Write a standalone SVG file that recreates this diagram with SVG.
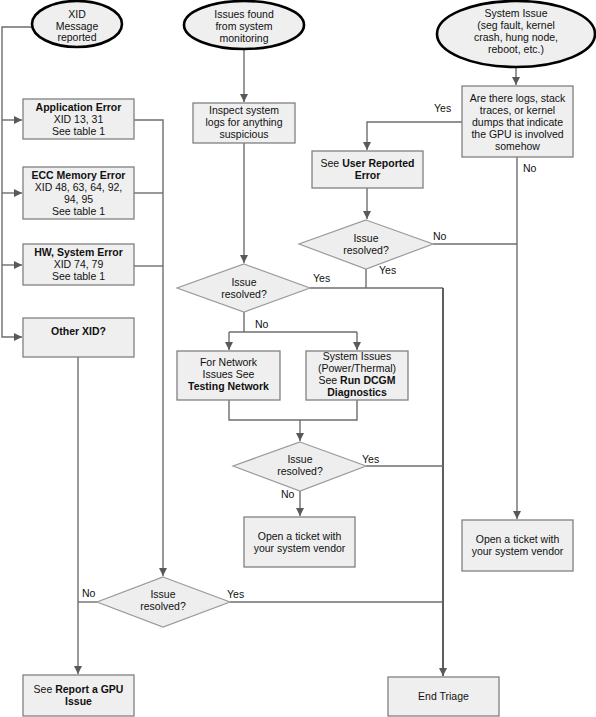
<svg xmlns="http://www.w3.org/2000/svg" width="596" height="717" viewBox="0 0 596 717">
<style>
text{font-family:"Liberation Sans",Arial,sans-serif;font-size:10.5px;fill:#111;text-anchor:middle}
.b{font-weight:bold}
.lbl{text-anchor:start}
.box{fill:#efefef;stroke:#808080;stroke-width:1.3}
.dia{fill:#eeeeee;stroke:#9a9a9a;stroke-width:1.2}
.ell{fill:#efefef;stroke:#000;stroke-width:2.6}
.c{fill:none;stroke:#6e6e6e;stroke-width:1.4}
.c2{fill:none;stroke:#5e5e5e;stroke-width:2}
</style>
<defs>
<marker id="ah" viewBox="0 0 8 8" refX="8" refY="4" markerWidth="8" markerHeight="8" markerUnits="userSpaceOnUse" orient="auto">
<path d="M0,0 L8,4 L0,8 z" fill="#595959"/>
</marker>
</defs>
<rect width="596" height="717" fill="#fff"/>
<g id="connectors">
<path class="c" d="M32,27 H2 V337 H22" marker-end="url(#ah)"/>
<path class="c" d="M2,120 H22" marker-end="url(#ah)"/>
<path class="c" d="M2,193 H22" marker-end="url(#ah)"/>
<path class="c" d="M2,265 H22" marker-end="url(#ah)"/>
<path class="c" d="M134,120 H163 V576" marker-end="url(#ah)"/>
<path class="c" d="M134,193 H163"/>
<path class="c" d="M134,266 H163"/>
<path class="c" d="M78,357 V674" marker-end="url(#ah)"/>
<path class="c" d="M97,602 H78"/>
<path class="c" d="M230,602 H443"/>
<path class="c" d="M244,49 V102" marker-end="url(#ah)"/>
<path class="c" d="M244,143 V263" marker-end="url(#ah)"/>
<path class="c" d="M310,288 H443"/>
<path class="c2" d="M443,288 V676" marker-end="url(#ah)"/>
<path class="c" d="M244,312 V332"/>
<path class="c" d="M229,332 H357"/>
<path class="c" d="M229,332 V350" marker-end="url(#ah)"/>
<path class="c" d="M357,332 V350" marker-end="url(#ah)"/>
<path class="c" d="M229,400 V420 H357 V400"/>
<path class="c" d="M300,420 V441" marker-end="url(#ah)"/>
<path class="c" d="M366,466 H443"/>
<path class="c" d="M300,491 V516" marker-end="url(#ah)"/>
<path class="c" d="M516,67 V85" marker-end="url(#ah)"/>
<path class="c" d="M462,122 H367 V150" marker-end="url(#ah)"/>
<path class="c" d="M367,188 V219" marker-end="url(#ah)"/>
<path class="c" d="M433,244 H517"/>
<path class="c" d="M517,157 V519" marker-end="url(#ah)"/>
<path class="c" d="M366,269 V288"/>
<text class="lbl" x="434" y="112">Yes</text>
<text class="lbl" x="523" y="172">No</text>
<text class="lbl" x="433" y="240">No</text>
<text class="lbl" x="379" y="274">Yes</text>
<text class="lbl" x="313" y="282">Yes</text>
<text class="lbl" x="255" y="328">No</text>
<text class="lbl" x="362" y="463">Yes</text>
<text class="lbl" x="281" y="498">No</text>
<text class="lbl" x="82" y="597">No</text>
<text class="lbl" x="227" y="598">Yes</text>
</g>
<g id="xid-start">
<ellipse class="ell" cx="77" cy="24" rx="45" ry="23"/>
<text x="77" y="17.5">XID</text>
<text x="77" y="29.5">Message</text>
<text x="77" y="41">reported</text>
</g>
<g id="monitoring-start">
<ellipse class="ell" cx="244" cy="25" rx="60" ry="24"/>
<text x="244" y="18">Issues found</text>
<text x="244" y="30">from system</text>
<text x="244" y="41.5">monitoring</text>
</g>
<g id="system-issue-start">
<ellipse class="ell" cx="516" cy="34" rx="79" ry="33"/>
<text x="516" y="17">System Issue</text>
<text x="516" y="29">(seg fault, kernel</text>
<text x="516" y="41">crash, hung node,</text>
<text x="516" y="53">reboot, etc.)</text>
</g>
<g id="app-error">
<rect class="box" x="23" y="99" width="111" height="40"/>
<text class="b" x="78.5" y="111">Application Error</text>
<text x="78.5" y="123">XID 13, 31</text>
<text x="78.5" y="135">See table 1</text>
</g>
<g id="ecc-error">
<rect class="box" x="23" y="167" width="111" height="52"/>
<text class="b" x="78.5" y="179">ECC Memory Error</text>
<text x="78.5" y="191">XID 48, 63, 64, 92,</text>
<text x="78.5" y="203">94, 95</text>
<text x="78.5" y="215">See table 1</text>
</g>
<g id="hw-error">
<rect class="box" x="23" y="244" width="111" height="41"/>
<text class="b" x="78.5" y="256">HW, System Error</text>
<text x="78.5" y="268">XID 74, 79</text>
<text x="78.5" y="280">See table 1</text>
</g>
<g id="other-xid">
<rect class="box" x="23" y="318" width="111" height="39"/>
<text class="b" x="78.5" y="335">Other XID?</text>
</g>
<g id="report-gpu">
<rect class="box" x="23" y="675" width="111" height="41"/>
<text x="78.5" y="693">See <tspan class="b">Report a GPU</tspan></text>
<text class="b" x="78.5" y="705">Issue</text>
</g>
<g id="decision-bottom">
<polygon class="dia" points="163,577 230,602 163,627 97,602"/>
<text x="163" y="598">Issue</text>
<text x="163" y="610">resolved?</text>
</g>
<g id="inspect-logs">
<rect class="box" x="193" y="103" width="102" height="40"/>
<text x="244" y="114">Inspect system</text>
<text x="244" y="126">logs for anything</text>
<text x="244" y="138">suspicious</text>
</g>
<g id="decision-1">
<polygon class="dia" points="244,264 310,288 244,312 177,288"/>
<text x="244" y="286">Issue</text>
<text x="244" y="298">resolved?</text>
</g>
<g id="network">
<rect class="box" x="177" y="351" width="103" height="49"/>
<text x="228.5" y="366">For Network</text>
<text x="228.5" y="378">Issues See</text>
<text class="b" x="228.5" y="390">Testing Network</text>
</g>
<g id="dcgm">
<rect class="box" x="306" y="351" width="102" height="49"/>
<text x="357" y="360">System Issues</text>
<text x="357" y="372">(Power/Thermal)</text>
<text x="357" y="384">See <tspan class="b">Run DCGM</tspan></text>
<text class="b" x="357" y="396">Diagnostics</text>
</g>
<g id="decision-3">
<polygon class="dia" points="300,442 366,466 300,491 233,466"/>
<text x="300" y="463">Issue</text>
<text x="300" y="475">resolved?</text>
</g>
<g id="ticket-1">
<rect class="box" x="244" y="517" width="111" height="50"/>
<text x="299.5" y="540">Open a ticket with</text>
<text x="299.5" y="552">your system vendor</text>
</g>
<g id="logs-gpu">
<rect class="box" x="462" y="86" width="111" height="71"/>
<text x="517.5" y="101.5">Are there logs, stack</text>
<text x="517.5" y="113.5">traces, or kernel</text>
<text x="517.5" y="125.5">dumps that indicate</text>
<text x="517.5" y="137.5">the GPU  is involved</text>
<text x="517.5" y="149.5">somehow</text>
</g>
<g id="user-reported">
<rect class="box" x="312" y="151" width="111" height="37"/>
<text x="367.5" y="167">See <tspan class="b">User Reported</tspan></text>
<text class="b" x="367.5" y="179">Error</text>
</g>
<g id="decision-2">
<polygon class="dia" points="366,220 433,244 366,269 299,244"/>
<text x="366" y="242">Issue</text>
<text x="366" y="254">resolved?</text>
</g>
<g id="ticket-2">
<rect class="box" x="462" y="520" width="111" height="51"/>
<text x="517.5" y="543">Open a ticket with</text>
<text x="517.5" y="555">your system vendor</text>
</g>
<g id="end-triage">
<rect class="box" x="388" y="677" width="111" height="39"/>
<text x="443.5" y="700">End Triage</text>
</g>
</svg>
